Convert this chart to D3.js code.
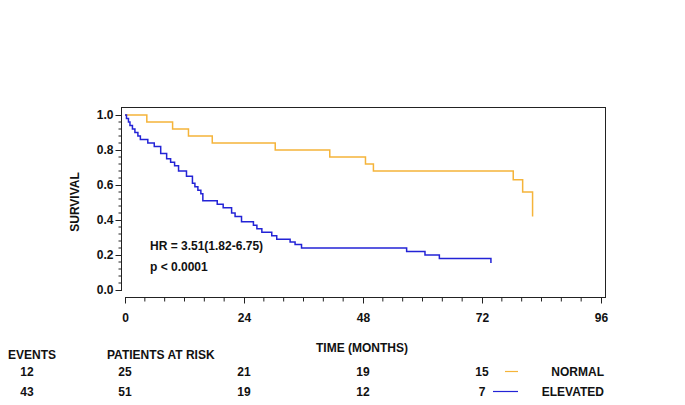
<!DOCTYPE html>
<html><head><meta charset="utf-8">
<script src="https://cdn.jsdelivr.net/npm/d3@7"></script>
<style>
html,body{margin:0;padding:0;background:#fff;}
text{font-family:Arial,"Liberation Sans",sans-serif;font-weight:bold;font-size:12px;fill:#111;}
</style></head>
<body><svg id="c" width="685" height="405"></svg>
<script>
// Data (months, survival after each step)
const normalTimes = [0, 4.4, 9.6, 12.8, 17.6, 30.3, 41.3, 48.5, 50.1, 78.3, 80.2, 82.2];
const normalSurv  = [1.0, 0.96, 0.92, 0.88, 0.84, 0.80, 0.76, 0.72, 0.68, 0.63, 0.56, 0.42];
const elevatedTimes = [0, 0.3, 0.7, 1.0, 1.5, 2.0, 2.6, 3.1, 4.6, 5.9, 7.2, 8.4, 9.2, 10.0, 10.8, 12.4, 13.6, 14.1, 14.7, 15.3, 15.7, 18.6, 19.8, 21.5, 22.2, 23.5, 25.9, 26.6, 27.6, 29.6, 30.6, 33.3, 34.3, 35.6, 56.8, 60.5, 63.4, 73.8];
const elevatedSurv  = [1.0, 0.98, 0.96, 0.94, 0.92, 0.90, 0.88, 0.86, 0.84, 0.82, 0.78, 0.75, 0.73, 0.71, 0.68, 0.65, 0.61, 0.59, 0.57, 0.55, 0.51, 0.49, 0.47, 0.44, 0.42, 0.39, 0.37, 0.35, 0.33, 0.31, 0.29, 0.275, 0.26, 0.24, 0.22, 0.20, 0.18, 0.155];
const xTicks = [0, 24, 48, 72, 96];
const yTicks = [0.0, 0.2, 0.4, 0.6, 0.8, 1.0];
const riskTimes = [0, 24, 48, 72];
const riskNormal = [25, 21, 19, 15];
const riskElevated = [51, 19, 12, 7];
const groupNames = ["NORMAL", "ELEVATED"];
const groupEvents = [12, 43];
const hrText = "HR = 3.51(1.82-6.75)";
const pText = "p < 0.0001";

(function(){
const colNormal = "#F5B43A", colElev = "#2323D6";
const svg = d3.select("#c");
const x = d3.scaleLinear().domain([0, 96]).range([125, 601]);
const y = d3.scaleLinear().domain([0, 1]).range([290, 115]);
const font = "Arial, 'Liberation Sans', sans-serif";

// frame
const fL = 121, fT = 107, fR = 605, fB = 297;
svg.append("line").attr("x1", fL).attr("x2", fR).attr("y1", fT+0.5).attr("y2", fT+0.5).attr("stroke", "#222");
svg.append("line").attr("x1", fR+0.5).attr("x2", fR+0.5).attr("y1", fT).attr("y2", fB).attr("stroke", "#222");

// y axis
const yAxis = d3.axisLeft(y).tickValues(yTicks).tickFormat(d3.format(".1f")).tickSize(6).tickPadding(2);
const gy = svg.append("g").attr("transform", `translate(${fL+0.5},0)`).call(yAxis);
gy.select(".domain").attr("d", `M0,${fT}V${y(0)+1}`).attr("stroke", "#222");
gy.selectAll(".tick line").attr("stroke", "#222");
gy.selectAll("text").attr("fill", "#111").style("font-size", "12px").style("font-family", font).style("font-weight", "bold");
gy.append("g").selectAll("line").data(d3.range(0, 1.0001, 0.04).filter(v => Math.abs(v*5 - Math.round(v*5)) > 1e-6))
  .join("line").attr("x1", -3).attr("x2", 0).attr("y1", d => y(d)).attr("y2", d => y(d)).attr("stroke", "#222");

// x axis
const xAxis = d3.axisBottom(x).tickValues(xTicks).tickFormat(d3.format("d")).tickSize(6).tickPadding(10);
const gx = svg.append("g").attr("transform", `translate(0,${fB+0.5})`).call(xAxis);
gx.select(".domain").attr("d", `M${x(0)},0H${fR+1}`).attr("stroke", "#222");
gx.selectAll(".tick line").attr("stroke", "#222");
gx.selectAll("text").attr("fill", "#111").style("font-size", "12px").style("font-family", font).style("font-weight", "bold");
gx.append("g").selectAll("line").data(d3.range(0, 97, 4).filter(v => v % 24 !== 0))
  .join("line").attr("x1", d => x(d)).attr("x2", d => x(d)).attr("y1", 0).attr("y2", 4).attr("stroke", "#222");

// curves
const line = d3.line().x(d => x(d[0])).y(d => y(d[1])).curve(d3.curveStepAfter);
const nData = normalTimes.map((t, i) => [t, normalSurv[i]]);
const eData = elevatedTimes.map((t, i) => [t, elevatedSurv[i]]);
svg.append("path").attr("d", line(nData)).attr("fill", "none").attr("stroke", colNormal).attr("stroke-width", 1.5);
svg.append("path").attr("d", line(eData)).attr("fill", "none").attr("stroke", colElev).attr("stroke-width", 1.5);

// annotations
svg.append("text").attr("x", 150).attr("y", 250).text(hrText);
svg.append("text").attr("x", 150).attr("y", 271).text(pText);
svg.append("text").attr("transform", "translate(79,202) rotate(-90)").attr("text-anchor", "middle").text("SURVIVAL");
svg.append("text").attr("x", 362).attr("y", 352).attr("text-anchor", "middle").text("TIME (MONTHS)");

// risk table
svg.append("text").attr("x", 8).attr("y", 359).text("EVENTS");
svg.append("text").attr("x", 107).attr("y", 359).text("PATIENTS AT RISK");
const rows = [riskNormal, riskElevated];
const rowY = [376, 396];
rows.forEach((r, i) => {
  svg.append("text").attr("x", 27).attr("y", rowY[i]).attr("text-anchor", "middle").text(groupEvents[i]);
  r.forEach((v, j) => {
    svg.append("text").attr("x", x(riskTimes[j])).attr("y", rowY[i]).attr("text-anchor", "middle").text(v);
  });
  svg.append("text").attr("x", 604).attr("y", rowY[i]).attr("text-anchor", "end").text(groupNames[i]);
});
svg.append("line").attr("x1", 505).attr("x2", 518).attr("y1", 371.5).attr("y2", 371.5).attr("stroke", colNormal).attr("stroke-width", 1.2);
svg.append("line").attr("x1", 493).attr("x2", 518).attr("y1", 391.5).attr("y2", 391.5).attr("stroke", colElev).attr("stroke-width", 1.2);
})();
</script></body></html>
